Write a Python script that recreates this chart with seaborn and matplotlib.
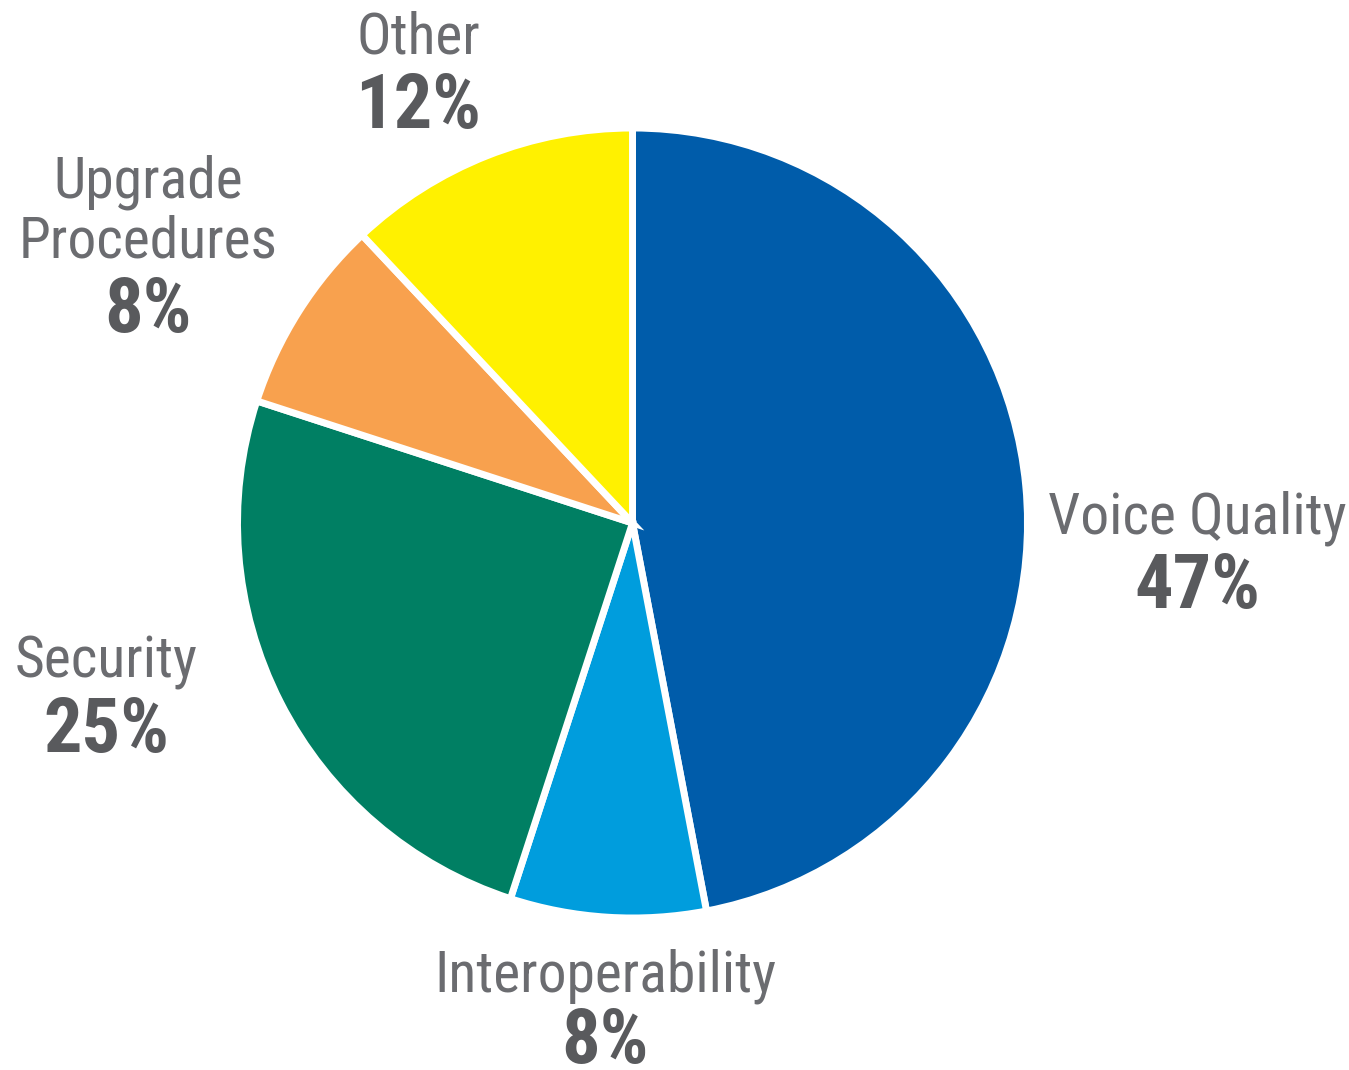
import matplotlib
matplotlib.use("Agg")
import matplotlib.pyplot as plt
from matplotlib import font_manager as fm
import seaborn as sns

# Survey shares by concern area
categories = ["Voice Quality", "Interoperability", "Security", "Upgrade\nProcedures", "Other"]
shares = [47, 8, 25, 8, 12]
colors = ["#005CAA", "#009DDD", "#007F63", "#F8A14E", "#FFF100"]

# Label anchor positions (pixel space, top-left origin): name baseline, percent baseline
label_x = [1197, 605, 106, 148, 418]
name_base = [533, 991, 678, 257, 53]
pct_base = [608, 1063, 752, 332, 128]

W, H = 1349, 1070


def pick_condensed_family():
    """Return the first installed narrow sans family that has a static bold face."""
    preferred = ["Roboto Condensed", "PT Sans Narrow", "Archivo Narrow",
                 "Liberation Sans Narrow", "Pragati Narrow", "Barlow Semi Condensed",
                 "Roboto"]
    faces = {}
    for f in fm.fontManager.ttflist:
        w = f.weight if isinstance(f.weight, int) else (700 if "bold" in str(f.weight) else 400)
        if f.style == "normal":
            faces.setdefault(f.name, set()).add(w)
    for fam in preferred:
        ws = faces.get(fam, set())
        if 400 in ws and any(w >= 700 for w in ws):
            return fam
    for fam in preferred:
        if fam in faces:
            return fam
    return "DejaVu Sans"


sns.set_theme(style="white")
family = pick_condensed_family()
plt.rcParams["font.family"] = [family, "DejaVu Sans"]

fig = plt.figure(figsize=(W / 100, H / 100), dpi=100)
ax = fig.add_axes([0, 0, 1, 1])

ax.pie(
    shares,
    colors=colors,
    startangle=90,
    counterclock=False,
    center=(632.5, H - 523),
    radius=395,
    wedgeprops=dict(edgecolor="white", linewidth=5),
    frame=True,
)
ax.set_xlim(0, W)
ax.set_ylim(0, H)
ax.set_aspect("equal")
ax.axis("off")

label_color = "#6B6C70"
pct_color = "#595A5D"
for name, val, x, nb, pb in zip(categories, shares, label_x, name_base, pct_base):
    lines = name.split("\n")
    for i, line in enumerate(reversed(lines)):
        ax.text(x, H - nb + i * 59, line, ha="center", va="baseline",
                fontsize=41.5, color=label_color)
    ax.text(x, H - pb, f"{val}%", ha="center", va="baseline",
            fontsize=55, fontweight="bold", color=pct_color)

fig.savefig("out.png", dpi=100, facecolor="white")
